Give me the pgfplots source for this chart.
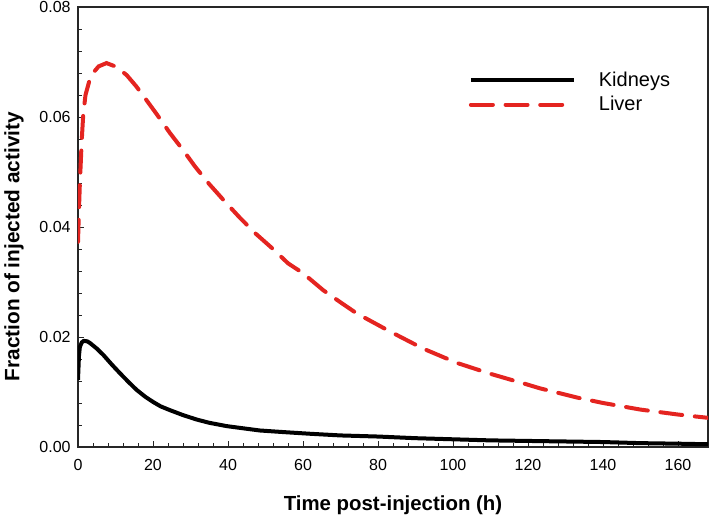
\documentclass[border=0pt]{standalone}
\usepackage{fontspec}
\setmainfont{Liberation Sans}
\usepackage{pgfplots}
\pgfplotsset{compat=1.18}
\definecolor{liverred}{RGB}{228,36,32}
\begin{document}
\begin{tikzpicture}
\begin{axis}[
  name=ax,
  scale only axis,
  width=472.5pt, height=330pt,
  xmin=0, xmax=168, ymin=0, ymax=0.08,
  enlargelimits=false,
  axis line style={line width=0.8pt, black!85},
  tick pos=left,
  tick align=inside,
  xtick={0,20,...,160},
  ytick={0,0.02,0.04,0.06,0.08},
  minor tick num=4,
  major tick length=4.5pt,
  minor tick length=3pt,
  every tick/.style={line width=0.7pt, black!85},
  scaled y ticks=false,
  /pgf/number format/assume math mode=true,
  yticklabel style={font=\fontsize{12}{14}\selectfont, /pgf/number format/fixed, /pgf/number format/fixed zerofill, /pgf/number format/precision=2, xshift=-2pt},
  xticklabel style={font=\fontsize{12}{14}\selectfont, yshift=-5.5pt},
  xlabel={Time post-injection (h)},
  ylabel={Fraction of injected activity},
  x label style={font=\fontsize{15.3}{18}\selectfont\bfseries, at={([yshift=-44pt]axis description cs:0.5,0)}, anchor=center},
  y label style={font=\fontsize{15.6}{18}\selectfont\bfseries, at={([xshift=-48pt,yshift=-8pt]axis description cs:0,0.4795)}, anchor=center},
  legend style={draw=none, fill=none, at={(0.6137,0.865)}, anchor=north west,
    font=\fontsize{15}{18}\selectfont, row sep=2pt,
    /tikz/every odd column/.append style={column sep=15pt}},
  legend cell align=left,
  legend image code/.code={\draw[#1] (0pt,0pt) -- (77.5pt,0pt);},
]
\addplot[black, line width=3pt, line join=round] coordinates {
(0,0.0122) (0.25,0.0165) (0.5,0.0182) (1,0.0190) (1.5,0.0193) (2.5,0.0192)
(3.2,0.0189) (5,0.0179) (6.8,0.0167) (9,0.0150) (11.2,0.0134) (13.5,0.0118)
(15.6,0.0104) (18,0.0091) (20,0.0082) (22,0.0074) (24.5,0.0067) (28,0.0058)
(31.6,0.0050) (35,0.0044) (39.6,0.0038) (44,0.0034) (48.5,0.0030) (55,0.0027)
(62,0.0024) (70,0.0021) (80,0.0019) (90,0.0016) (100,0.0014) (110,0.0012)
(120,0.0011) (130,0.0010) (140,0.0009) (150,0.0007) (160,0.0006) (168,0.0005)
};
\addlegendentry{Kidneys}
\addplot[liverred, line width=3pt, line cap=round, dash pattern=on 16.5pt off 9.5pt] coordinates {
(0,0.0373) (0.25,0.0430) (0.5,0.0480) (1,0.0558) (1.4,0.0605) (2,0.0640)
(3,0.0665) (4,0.0680) (5.5,0.0692) (7.6,0.0698) (10.3,0.0691) (13,0.0676)
(15.5,0.0656) (17.9,0.0634) (21,0.0605) (24.5,0.0571) (28,0.0540) (31.2,0.0510)
(35,0.0478) (38.8,0.0449) (43,0.0418) (47.2,0.0389) (52,0.0360) (56,0.0334)
(60,0.0316) (65.4,0.0285) (70,0.0263) (74.3,0.0243) (83.2,0.0210) (92,0.0179)
(101,0.0153) (110,0.0133) (119.6,0.0114) (123,0.0107) (133,0.0090) (140,0.0080)
(150,0.0068) (160,0.0059) (168,0.0053)
};
\addlegendentry{Liver}
\end{axis}
\pgfresetboundingbox
\path ([shift={(-58.5pt,-52.5pt)}]ax.south west) rectangle ([shift={(0.75pt,5.25pt)}]ax.north east);
\end{tikzpicture}
\end{document}
